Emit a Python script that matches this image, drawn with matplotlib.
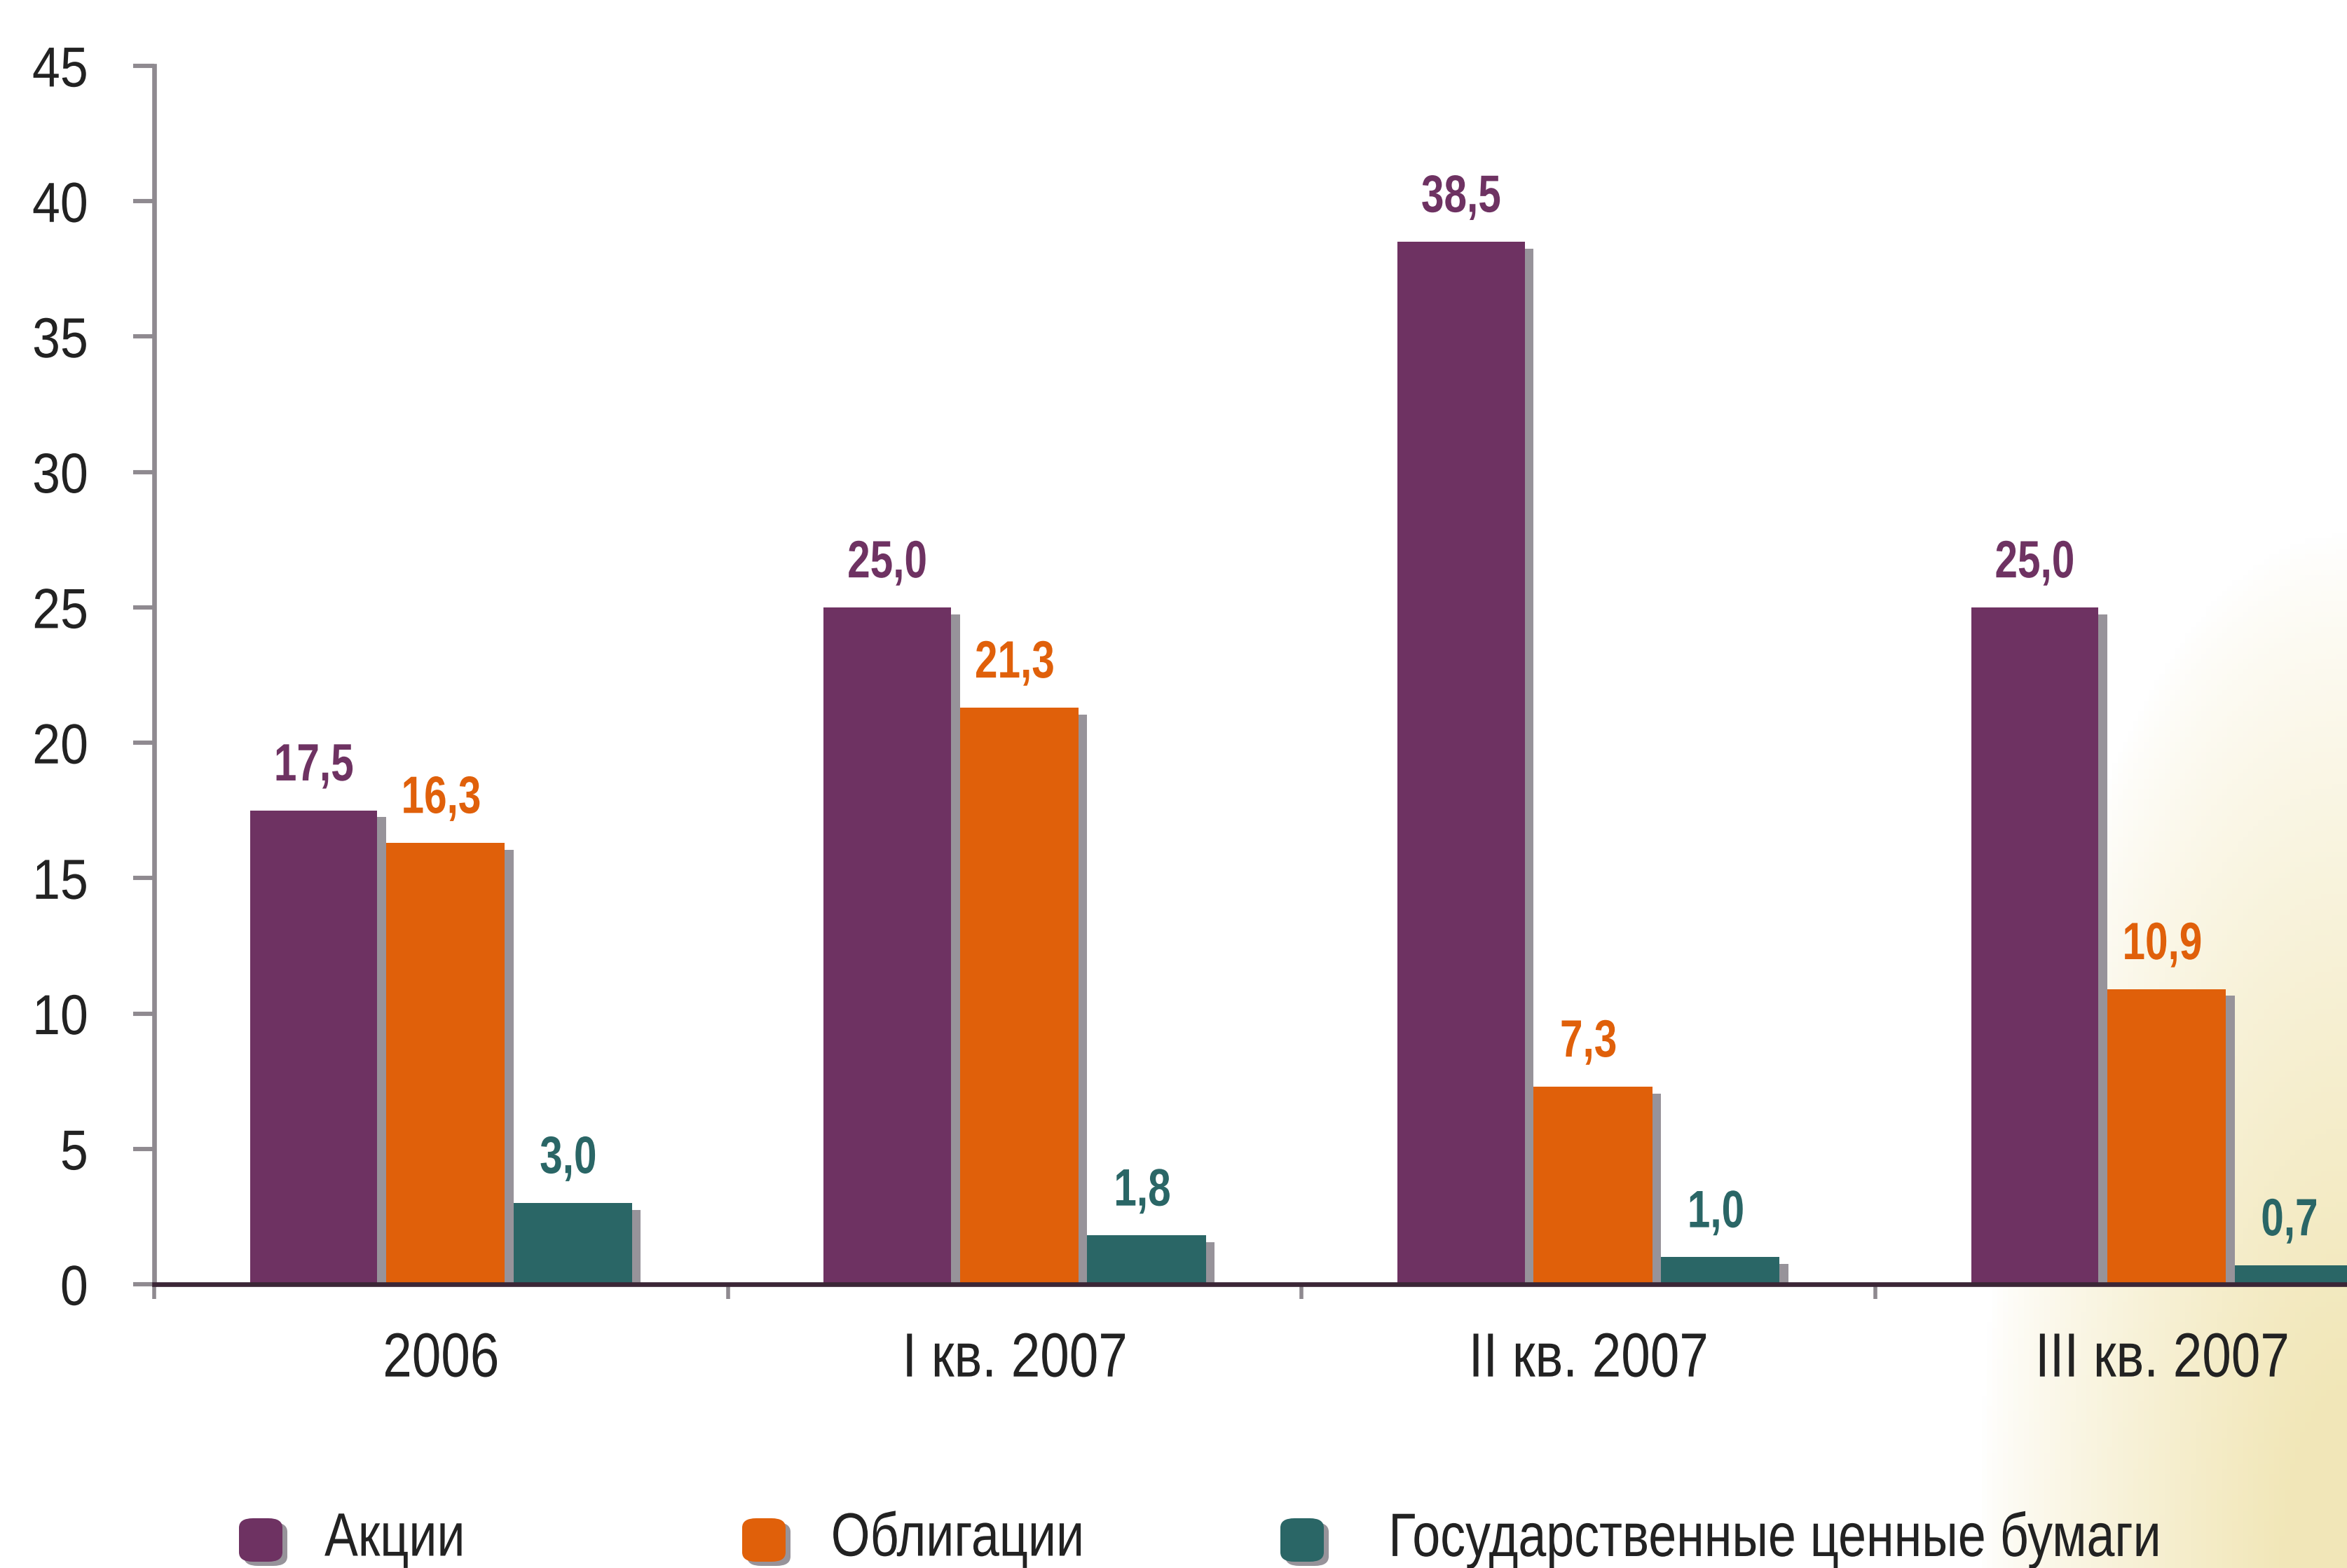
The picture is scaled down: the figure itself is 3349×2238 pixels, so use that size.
import numpy as np
import matplotlib
matplotlib.use("Agg")
import matplotlib.pyplot as plt
from matplotlib import patheffects as pe
from matplotlib.patches import FancyBboxPatch
from matplotlib.transforms import Affine2D

categories = ["2006", "I кв. 2007", "II кв. 2007", "III кв. 2007"]
series_names = ["Акции", "Облигации", "Государственные ценные бумаги"]
stocks = [17.5, 25.0, 38.5, 25.0]
bonds = [16.3, 21.3, 7.3, 10.9]
govt = [3.0, 1.8, 1.0, 0.7]
labels_stocks = ["17,5", "25,0", "38,5", "25,0"]
labels_bonds = ["16,3", "21,3", "7,3", "10,9"]
labels_govt = ["3,0", "1,8", "1,0", "0,7"]
yticks = [0, 5, 10, 15, 20, 25, 30, 35, 40, 45]

colors = ["#6e3262", "#e0600a", "#2a6666"]
FONT = ["Liberation Sans", "DejaVu Sans"]


class Squeeze(pe.AbstractPathEffect):
    """Horizontally condense a text path around an anchor of its bounding box."""

    def __init__(self, sx, anchor="center"):
        super().__init__()
        self.sx = sx
        self.anchor = anchor

    def draw_path(self, renderer, gc, tpath, affine, rgbFace=None):
        try:
            ext = tpath.get_extents(affine)
            if self.anchor == "left":
                x0 = ext.x0
            elif self.anchor == "right":
                x0 = ext.x1
            else:
                x0 = 0.5 * (ext.x0 + ext.x1)
        except Exception:
            x0 = 0
        t = affine + Affine2D().translate(-x0, 0).scale(self.sx, 1).translate(x0, 0)
        renderer.draw_path(gc, tpath, t, rgbFace)


W, H, DPI = 3349, 2238, 200
fig = plt.figure(figsize=(W / DPI, H / DPI), dpi=DPI)
fig.patch.set_facecolor("white")

# subtle beige texture in lower right corner
bg = fig.add_axes([0, 0, 1, 1], zorder=-5)
bg.set_axis_off()
yy, xx = np.mgrid[0:1:300j, 0:1:450j]
d = np.sqrt(((1 - xx) / 0.13) ** 2 + ((yy) / 0.55) ** 2)
alpha = np.clip(1.2 - d, 0, 1) ** 0.8
img = np.zeros((300, 450, 4))
img[..., 0] = 0xf0 / 255
img[..., 1] = 0xe4 / 255
img[..., 2] = 0xb0 / 255
img[..., 3] = alpha * 0.9
bg.imshow(img, extent=[0, 1, 0, 1], origin="lower", aspect="auto")
bg.set_xlim(0, 1)
bg.set_ylim(0, 1)

ax = fig.add_axes([220 / W, 405 / H, 1 - 220 / W, (1833 - 94) / H])
ax.patch.set_alpha(0)

n = len(categories)
centers = np.arange(n) + 0.5
bw = 0.222
shadow = [pe.SimplePatchShadow(offset=(4.5, -3.5), shadow_rgbFace="#97939a", alpha=1.0), pe.Normal()]

for i, (vals, labs) in enumerate(zip([stocks, bonds, govt], [labels_stocks, labels_bonds, labels_govt])):
    xs = centers + (i - 1) * bw
    bars = ax.bar(xs, vals, width=bw, color=colors[i], edgecolor="none", zorder=3 - i * 0.1,
                  label=series_names[i])
    for b in bars:
        b.set_path_effects(shadow)
    for x, v, t in zip(xs, vals, labs):
        ax.annotate(t, (x, v), xytext=(0, 10), textcoords="offset points", ha="center", va="bottom",
                    fontsize=27, fontweight="bold", color=colors[i], family=FONT, zorder=5,
                    path_effects=[Squeeze(0.78, "center")])

ax.set_xlim(0, (1568 - 103) / 383.3)
ax.set_ylim(0, 45)
ax.set_yticks(yticks)
ax.set_yticklabels([str(t) for t in yticks], fontsize=29, family=FONT, color="#222222")
ax.tick_params(axis="y", length=10.8, width=2.2, color="#8f8a90", pad=23)
for lab in ax.get_yticklabels():
    lab.set_path_effects([Squeeze(0.89, "right")])

ax.set_xticks(np.arange(n))
ax.set_xticklabels([])
ax.tick_params(axis="x", which="major", length=7.5, width=2, color="#8f8a90")
ax.set_xticks(centers, minor=True)
ax.set_xticklabels(categories, minor=True, fontsize=32, family=FONT, color="#222222")
ax.tick_params(axis="x", which="minor", length=0, pad=24)
for lab in ax.get_xticklabels(minor=True):
    lab.set_path_effects([Squeeze(0.84, "center")])

for s in ["top", "right"]:
    ax.spines[s].set_visible(False)
ax.spines["left"].set_color("#8f8a90")
ax.spines["left"].set_linewidth(2.4)
ax.spines["bottom"].set_color("#3b2636")
ax.spines["bottom"].set_linewidth(2.4)
ax.spines["bottom"].set_zorder(6)

# legend
leg_y = (H - 2198) / H
leg_items = [(372, 463), (1090, 1185), (1858, 1980)]
for (sx, tx), name, c in zip(leg_items, series_names, colors):
    w, h = 62 / W, 62 / H
    sh = FancyBboxPatch((sx / W - w / 2 + 7 / W, leg_y - h / 2 - 6 / H), w, h,
                        boxstyle="round,pad=0,rounding_size=0.006", transform=fig.transFigure,
                        facecolor="#97939a", edgecolor="none")
    fig.add_artist(sh)
    p = FancyBboxPatch((sx / W - w / 2, leg_y - h / 2), w, h,
                       boxstyle="round,pad=0,rounding_size=0.006", transform=fig.transFigure,
                       facecolor=c, edgecolor="none")
    fig.add_artist(p)
    fig.text(tx / W, leg_y, name, ha="left", va="center", fontsize=31.5, family=FONT,
             color="#222222", path_effects=[Squeeze(0.82, "left")])

fig.savefig("out.png", dpi=DPI)
